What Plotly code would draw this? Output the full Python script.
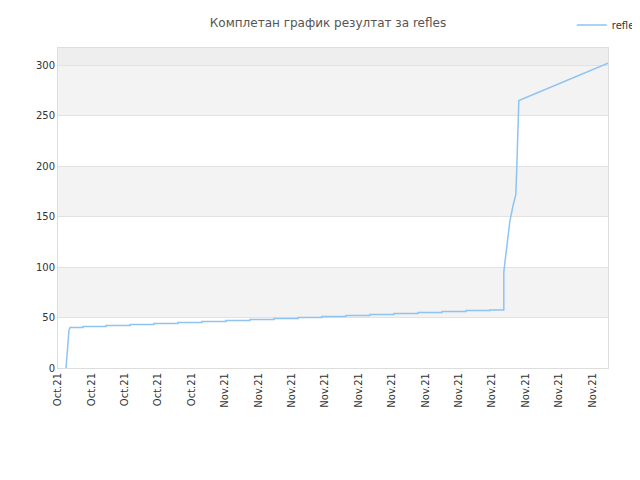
import plotly.graph_objects as go

tick_labels = ["Oct.21"]*5 + ["Nov.21"]*12
tick_pos = list(range(17))

# x in tick units, y = cumulative results
x_vals = [0.24, 0.27, 0.30, 0.33, 0.36,
          0.75, 0.75, 1.44, 1.44, 2.16, 2.16, 2.87, 2.87, 3.59, 3.59, 4.31, 4.31,
          5.03, 5.03, 5.75, 5.75, 6.47, 6.47, 7.19, 7.19, 7.90, 7.90, 8.62, 8.62,
          9.34, 9.34, 10.06, 10.06, 10.78, 10.78, 11.50, 11.50, 12.22, 12.22, 12.93, 12.93,
          13.35, 13.35, 13.41, 13.47, 13.53, 13.62, 13.71, 13.74, 13.77, 13.80, 13.80, 16.47]
y_vals = [0, 10, 25, 38, 40,
          40, 41, 41, 42, 42, 43, 43, 44, 44, 45, 45, 46,
          46, 47, 47, 48, 48, 49, 49, 50, 50, 51, 51, 52,
          52, 53, 53, 54, 54, 55, 55, 56, 56, 57, 57, 57.5,
          57.5, 95, 112, 128, 145, 160, 172, 200, 230, 250, 265, 302]

fig = go.Figure()
fig.add_trace(go.Scatter(x=x_vals, y=y_vals, mode="lines", name="refles",
                         line=dict(color="#8fc3f2", width=1.5)))

bands = [(50, 100, "#f3f3f3"), (150, 200, "#f3f3f3"), (250, 300, "#f3f3f3"), (300, 317, "#eeeeee")]
for y0, y1, c in bands:
    fig.add_shape(type="rect", xref="paper", x0=0, x1=1, y0=y0, y1=y1,
                  fillcolor=c, line_width=0, layer="below")

fig.update_layout(
    width=640, height=480, margin=dict(l=50, r=40, t=40, b=120, autoexpand=False),
    paper_bgcolor="white", plot_bgcolor="white",
    title=dict(text="Комплетан график резултат за refles", x=0.5, y=0.978,
               font=dict(family="DejaVu Sans", size=12, color="#555")),
    font=dict(family="DejaVu Sans", size=10, color="#333"),
    showlegend=True,
    legend=dict(xref="container", yref="container", x=0.995, y=0.995, xanchor="right",
                yanchor="top", font=dict(size=10), bgcolor="rgba(0,0,0,0)"),
    xaxis=dict(range=[0, 16.47], tickvals=tick_pos, ticktext=tick_labels, tickangle=-90,
               showgrid=False, zeroline=False, showline=True, linecolor="#dddddd", mirror=True,
               ticks="", tickfont=dict(size=10), automargin=False),
    yaxis=dict(range=[0, 317], tickvals=[0, 50, 100, 150, 200, 250, 300], showgrid=True,
               gridcolor="#e2e2e2", zeroline=False, showline=True, linecolor="#dddddd", mirror=True,
               ticks="", tickfont=dict(size=10), automargin=False),
)
fig.write_html("out.html")
